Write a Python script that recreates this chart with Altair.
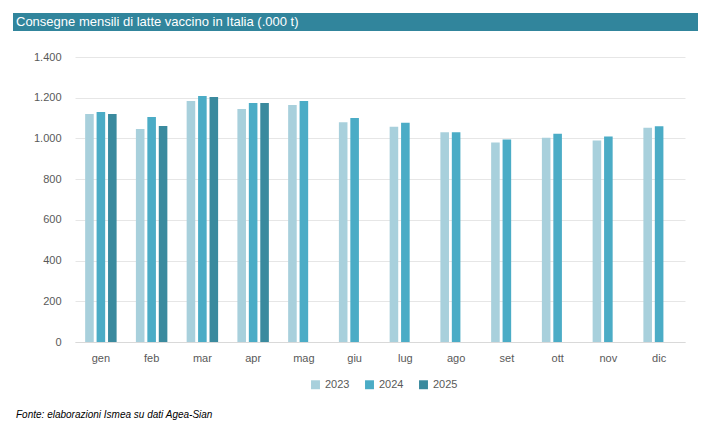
import altair as alt
import pandas as pd

months = ["gen", "feb", "mar", "apr", "mag", "giu", "lug", "ago", "set", "ott", "nov", "dic"]
v2023 = [1120, 1046, 1184, 1144, 1164, 1080, 1057, 1030, 980, 1003, 990, 1052]
v2024 = [1130, 1105, 1208, 1174, 1184, 1100, 1077, 1030, 995, 1023, 1010, 1060]
v2025 = [1120, 1061, 1203, 1174]

rows = []
for year, vals in [("2023", v2023), ("2024", v2024), ("2025", v2025)]:
    for m, v in zip(months, vals):
        rows.append({"mese": m, "anno": year, "valore": v})
df = pd.DataFrame(rows)

font = "Liberation Sans"
title_df = pd.DataFrame({"t": ["Consegne mensili di latte vaccino in Italia (.000 t)"]})
foot_df = pd.DataFrame({"t": ["Fonte: elaborazioni Ismea su dati Agea-Sian"]})

banner_bg = alt.Chart(title_df).mark_rect(color="#31859c").encode(
    x=alt.value(-62), x2=alt.value(623), y=alt.value(-44), y2=alt.value(-26))
banner_txt = alt.Chart(title_df).mark_text(
    align="left", baseline="middle", color="white", font=font, fontSize=13).encode(
    x=alt.value(-59), y=alt.value(-35), text="t:N")
foot = alt.Chart(foot_df).mark_text(
    align="left", baseline="middle", fontStyle="italic", font=font, fontSize=10, color="#000000").encode(
    x=alt.value(-59), y=alt.value(74 + 285 - 1), text="t:N")

bars = alt.Chart(df).mark_bar().encode(
    x=alt.X("mese:N", sort=months, title=None,
            scale=alt.Scale(paddingInner=0.38, paddingOuter=0.2),
            axis=alt.Axis(labelAngle=0, ticks=False, domainColor="#d9d9d9", labelPadding=10,
                          labelFont=font, labelFontSize=11, labelColor="#595959")),
    xOffset=alt.XOffset("anno:N", scale=alt.Scale(paddingInner=0.25)),
    y=alt.Y("valore:Q", title=None, scale=alt.Scale(domain=[0, 1400]),
            axis=alt.Axis(values=list(range(0, 1401, 200)), domain=False, ticks=False,
                          gridColor="#e6e6e6", labelFont=font, labelFontSize=11, labelColor="#595959",
                          labelPadding=14,
                          labelExpr="replace(format(datum.value, ',.0f'), ',', '.')")),
    color=alt.Color("anno:N", title=None,
                    scale=alt.Scale(domain=["2023", "2024", "2025"], range=["#a8d0dc", "#4bacc6", "#3a8a9e"]),
                    legend=alt.Legend(orient="none", legendX=235, legendY=322, direction="horizontal",
                                      symbolType="square", symbolSize=80, columnPadding=14,
                                      labelFont=font, labelFontSize=11, labelColor="#595959")),
)

chart = alt.layer(bars, banner_bg, banner_txt, foot).properties(
    width=610, height=285).configure_view(stroke=None)
chart.save("out.html", embed_options={"renderer": "svg", "actions": False})
